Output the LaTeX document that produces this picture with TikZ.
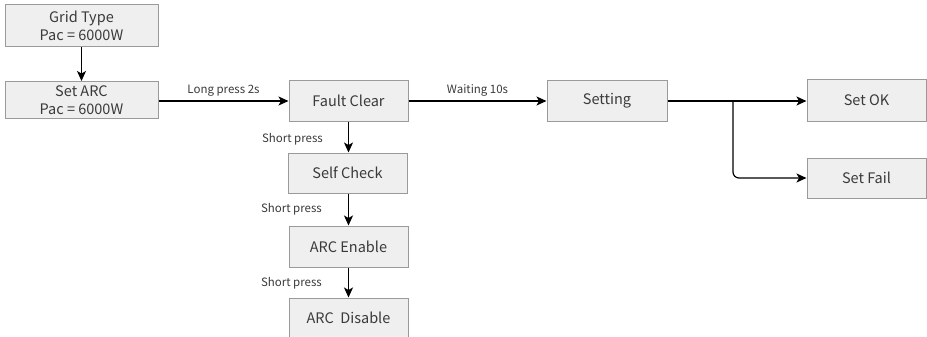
\documentclass[tikz,border=0pt]{standalone}
\usepackage{fontspec}
\setmainfont{Noto Sans CJK SC}
\usetikzlibrary{arrows.meta,positioning}
\definecolor{boxfill}{HTML}{EFEFEF}
\definecolor{boxline}{HTML}{9A9A9A}
\definecolor{txt}{HTML}{3A3A3A}
\tikzset{
  box/.style={draw=boxline, fill=boxfill, line width=1pt, minimum width=119pt, minimum height=40pt, inner sep=0pt, align=center, font=\fontsize{14.5}{17}\selectfont, text=txt},
  conn/.style={line width=1.2pt, -{Stealth[length=10pt,width=9pt,inset=2.5pt]}},
  lbl/.style={font=\fontsize{11.5}{13}\selectfont, text=txt, inner sep=0pt}
}
\begin{document}
\begin{tikzpicture}[x=1pt,y=-1pt]
\useasboundingbox (0,0) rectangle (927,337);
\node[box, minimum width=153pt, minimum height=42pt, font=\fontsize{14.5}{18}\selectfont] (grid) at (81.5,26) {Grid Type\\Pac = 6000W};
\node[box, minimum width=153pt, minimum height=37pt, font=\fontsize{14.5}{18}\selectfont] (setarc) at (81.5,100) {Set ARC\\Pac = 6000W};
\node[box] (fault) at (348.5,101) {Fault Clear};
\node[box] (self) at (347.5,173) {Self Check};
\node[box, minimum height=41pt] (enable) at (348.5,246.5) {ARC Enable};
\node[box] (disable) at (348.5,318) {ARC\ \ Disable};
\node[box, minimum width=120pt, minimum height=41pt] (setting) at (607,101) {Setting};
\node[box, minimum height=41pt] (ok) at (866.5,100.5) {Set OK};
\node[box] (fail) at (866.5,178) {Set Fail};
\coordinate (br) at (733,101);

\draw[conn] (grid) -- (setarc);
\draw[conn] (setarc.east |- fault.west) -- node[lbl, above=4pt] {Long press 2s} (fault.west);
\draw[conn] (fault) -- node[lbl, above=4pt] {Waiting 10s} (setting);
\draw[conn] (fault.south) -- (fault.south |- self.north);
\draw[conn] (fault.south |- self.south) -- (fault.south |- enable.north);
\draw[conn] (enable.south) -- (enable.south |- disable.north);
\draw[conn] (setting.east) -- (ok.west |- setting.east);
\draw[conn, rounded corners=6pt] (br) |- (fail.west);

\node[lbl, anchor=east] (l1) at (323,139) {Short press};
\node[lbl, anchor=east] (l2) at (322,209) {Short press};
\node[lbl, anchor=east] (l3) at (322,283) {Short press};
\end{tikzpicture}
\end{document}
